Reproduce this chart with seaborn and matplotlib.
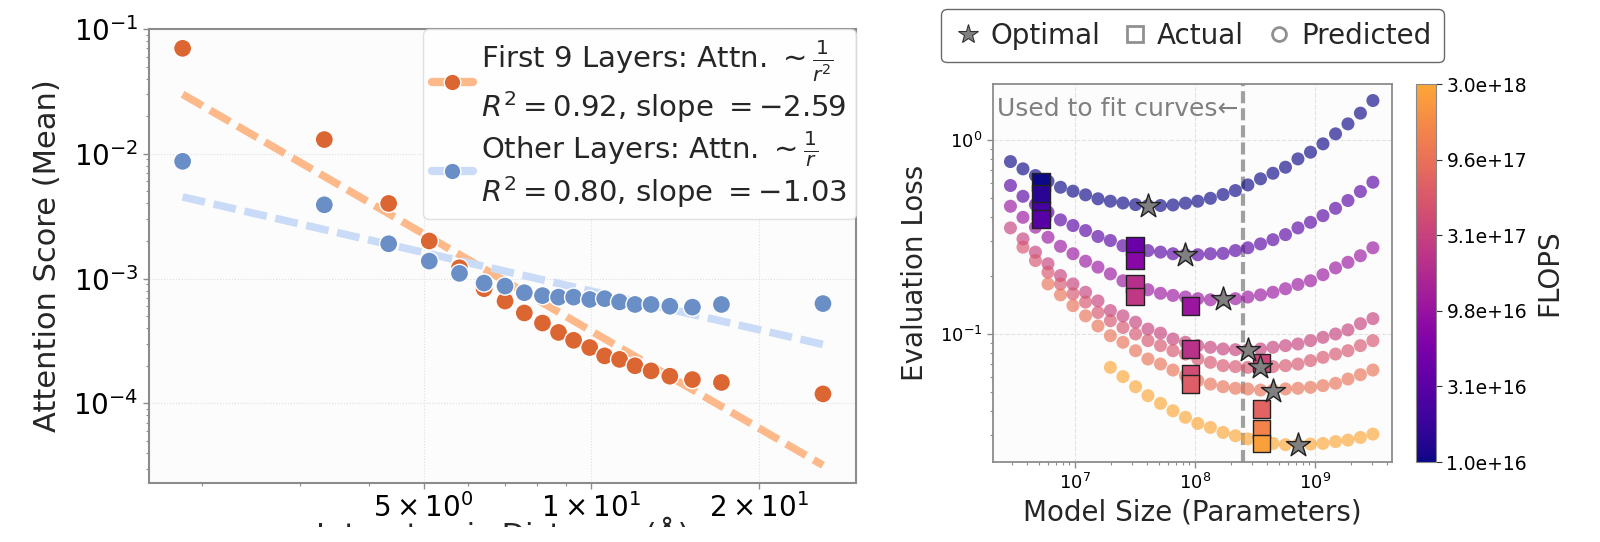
import numpy as np
import pandas as pd
import matplotlib
matplotlib.use("Agg")
import matplotlib.pyplot as plt
import seaborn as sns
from matplotlib.colors import LogNorm, ListedColormap
from matplotlib.lines import Line2D
from matplotlib.patches import Rectangle
from matplotlib.ticker import FixedLocator, NullFormatter

# ---------------- left panel data: attention score vs interatomic distance
distance = [1.85, 3.32, 4.33, 5.12, 5.80, 6.42, 7.00, 7.58, 8.17, 8.73,
            9.29, 9.93, 10.56, 11.23, 11.97, 12.79, 13.82, 15.17, 17.1, 26.0]
attn_first9 = [0.070, 0.0130, 0.0040, 0.0020, 0.00122, 0.00083, 0.00066, 0.00053,
               0.00044, 0.00037, 0.00032, 0.00028, 0.00024, 0.000225, 0.000200,
               0.000182, 0.000165, 0.000155, 0.000147, 0.000119]
attn_other = [0.0087, 0.0039, 0.0019, 0.00138, 0.00110, 0.00092, 0.00087, 0.00077,
              0.00073, 0.00071, 0.00071, 0.00068, 0.00069, 0.00065, 0.00062,
              0.00062, 0.00060, 0.00059, 0.00062, 0.00063]
first9_slope, first9_r2 = -2.59, 0.92
other_slope, other_r2 = -1.03, 0.80
dist_ticks = [5, 10, 20]
dist_tick_labels = [r"$5\times10^{0}$", r"$1\times10^{1}$", r"$2\times10^{1}$"]

# ---------------- right panel data: scaling curves
model_sizes = [2.91e6, 3.70e6, 4.70e6, 5.98e6, 7.60e6, 9.66e6, 1.23e7, 1.56e7, 1.98e7, 2.52e7,
               3.21e7, 4.07e7, 5.18e7, 6.58e7, 8.36e7, 1.06e8, 1.35e8, 1.72e8, 2.18e8, 2.77e8,
               3.53e8, 4.48e8, 5.70e8, 7.24e8, 9.21e8, 1.17e9, 1.49e9, 1.89e9, 2.40e9, 3.05e9]
curve_flops = [1e16, 3e16, 1e17, 3e17, 5e17, 1e18, 3e18]
loss_1e16 = [0.773, 0.709, 0.655, 0.612, 0.570, 0.544, 0.521, 0.497, 0.483, 0.473,
             0.464, 0.459, 0.459, 0.462, 0.472, 0.483, 0.500, 0.523, 0.548, 0.586,
             0.630, 0.673, 0.723, 0.798, 0.864, 0.954, 1.074, 1.209, 1.373, 1.595]
loss_3e16 = [0.582, 0.512, 0.464, 0.424, 0.387, 0.362, 0.341, 0.318, 0.303, 0.285,
             0.274, 0.269, 0.264, 0.259, 0.256, 0.256, 0.259, 0.260, 0.269, 0.278,
             0.291, 0.306, 0.325, 0.352, 0.376, 0.407, 0.444, 0.487, 0.542, 0.605]
loss_1e17 = [0.455, 0.399, 0.355, 0.315, 0.283, 0.259, 0.237, 0.221, 0.204, 0.188,
             0.177, 0.169, 0.162, 0.158, 0.155, 0.152, 0.150, 0.150, 0.152, 0.155,
             0.159, 0.164, 0.171, 0.180, 0.188, 0.202, 0.219, 0.234, 0.253, 0.278]
loss_3e17 = [0.352, 0.309, 0.264, 0.230, 0.200, 0.181, 0.164, 0.148, 0.132, 0.124,
             0.115, 0.106, 0.101, 0.0942, 0.0906, 0.0871, 0.0854, 0.0837, 0.0830, 0.0830,
             0.0837, 0.0854, 0.0871, 0.0888, 0.0924, 0.0961, 0.100, 0.105, 0.113, 0.120]
loss_5e17 = [0.280, 0.239, 0.208, 0.181, 0.161, 0.146, 0.129, 0.117, 0.108, 0.100,
             0.0924, 0.0871, 0.0820, 0.0788, 0.0743, 0.0714, 0.0687, 0.0679, 0.0673, 0.0673,
             0.0679, 0.0687, 0.0700, 0.0729, 0.0758, 0.0788, 0.0820, 0.0871, 0.0924]
loss_1e18 = [0.181, 0.159, 0.140, 0.124, 0.110, 0.0980, 0.0906, 0.0820, 0.0743, 0.0700,
             0.0652, 0.0610, 0.0575, 0.0552, 0.0535, 0.0525, 0.0521, 0.0514, 0.0514, 0.0521,
             0.0525, 0.0531, 0.0542, 0.0557, 0.0586, 0.0617, 0.0652]
loss_3e18 = [0.0673, 0.0603, 0.0535, 0.0481, 0.0439, 0.0402, 0.0372, 0.0346, 0.0330, 0.0311,
             0.0299, 0.0288, 0.0280, 0.0273, 0.0269, 0.0269, 0.0271, 0.0273, 0.0279, 0.0284,
             0.0293, 0.0305]

actual_sizes = [5.2e6, 5.2e6, 5.2e6, 5.2e6, 3.2e7, 3.2e7, 3.2e7, 3.2e7,
                9.2e7, 9.2e7, 9.2e7, 9.2e7, 3.6e8, 3.6e8, 3.6e8, 3.6e8]
actual_loss = [0.605, 0.527, 0.432, 0.390, 0.285, 0.239, 0.181, 0.156,
               0.139, 0.0834, 0.0622, 0.0552, 0.0706, 0.0409, 0.0324, 0.0273]
actual_flops = [1.0e16, 1.4e16, 2.2e16, 3.0e16, 4.1e16, 7.4e16, 2.0e17, 2.4e17,
                1.05e17, 2.1e17, 4.1e17, 6.3e17, 3.5e17, 7.2e17, 1.5e18, 2.6e18]

optimal_sizes = [4.08e7, 8.36e7, 1.72e8, 2.78e8, 3.52e8, 4.5e8, 7.26e8]
optimal_loss = [0.459, 0.256, 0.152, 0.083, 0.0673, 0.051, 0.0269]

fit_cutoff = 2.5e8
flops_min, flops_max = 1e16, 3e18
cbar_labels = ["1.0e+16", "3.1e+16", "9.8e+16", "3.1e+17", "9.6e+17", "3.0e+18"]

# ---------------- style
sns.set_style("ticks")
plt.rcParams["font.family"] = ["DejaVu Sans"]
plt.rcParams["axes.edgecolor"] = "#8c8c8c"
plt.rcParams["xtick.color"] = "#8c8c8c"
plt.rcParams["ytick.color"] = "#8c8c8c"
plt.rcParams["xtick.labelcolor"] = "black"
plt.rcParams["ytick.labelcolor"] = "black"

fig = plt.figure(figsize=(16, 5.42), dpi=100)
fig.patch.set_facecolor("white")

# ================= left panel
ax1 = fig.add_axes([0.0931, 0.1089, 0.4419, 0.8376])
ax1.set_facecolor("#fcfcfc")
ax1.set_xscale("log")
ax1.set_yscale("log")

orange_pt, orange_fit = "#dc6632", "#fdb98a"
blue_pt, blue_fit = "#6a8fc6", "#c9dbf7"

# power-law fit lines (slope from the legend, intercept from the points)
dist = np.array(distance)
for vals, slope, fitc in [(attn_first9, first9_slope, orange_fit),
                          (attn_other, other_slope, blue_fit)]:
    logx, logy = np.log10(dist), np.log10(vals)
    b = logy.mean() - slope * logx.mean()
    xs = np.array([dist.min(), dist.max()])
    ax1.plot(xs, 10 ** (b + slope * np.log10(xs)), color=fitc, lw=5.5,
             ls=(0, (3.0, 1.15)), zorder=1, solid_capstyle="butt")

df_attn = pd.DataFrame({
    "distance": distance * 2,
    "score": attn_first9 + attn_other,
    "group": ["first"] * len(distance) + ["other"] * len(distance),
})
sns.scatterplot(data=df_attn, x="distance", y="score", hue="group",
                palette={"first": orange_pt, "other": blue_pt},
                s=170, edgecolor="white", linewidth=1.0, legend=False,
                zorder=3, ax=ax1)

ax1.set_xlim(1.61, 29.8)
ax1.set_ylim(2.3e-5, 0.1)
ax1.xaxis.set_major_locator(FixedLocator(dist_ticks))
ax1.set_xticklabels(dist_tick_labels)
ax1.xaxis.set_minor_formatter(NullFormatter())
ax1.tick_params(axis="both", which="major", labelsize=20, length=4, width=1)
ax1.tick_params(axis="both", which="minor", length=2.5, width=0.8)
ax1.grid(True, which="major", ls=":", lw=0.8, color="#dedede")
for sp in ax1.spines.values():
    sp.set_linewidth(1.5)
    sp.set_visible(True)
ax1.set_xlabel("Interatomic Distance (Å)", fontsize=22, labelpad=-3.5)
ax1.set_ylabel("Attention Score (Mean)", fontsize=22, labelpad=8)

lab1 = ("First 9 Layers: Attn. $\\sim\\frac{1}{r^2}$\n"
        f"$R^2 = {first9_r2:.2f}$, slope $= {first9_slope:.2f}$")
lab2 = ("Other Layers: Attn. $\\sim\\frac{1}{r}$\n"
        f"$R^2 = {other_r2:.2f}$, slope $= {other_slope:.2f}$")
h1 = Line2D([0], [0], color=orange_fit, lw=6, marker="o", markersize=12,
            markerfacecolor=orange_pt, markeredgecolor="white")
h2 = Line2D([0], [0], color=blue_fit, lw=6, marker="o", markersize=12,
            markerfacecolor=blue_pt, markeredgecolor="white")
leg1 = ax1.legend([h1, h2], [lab1, lab2], loc="upper right", fontsize=21,
                  borderaxespad=0.0, handlelength=1.4, handletextpad=0.3,
                  labelspacing=0.15, borderpad=0.3, frameon=True, fancybox=True)
leg1.get_frame().set_edgecolor("#dddddd")
leg1.get_frame().set_alpha(0.9)

# ================= right panel
ax2 = fig.add_axes([0.6206, 0.1476, 0.2494, 0.6974])
ax2.set_facecolor("#fcfcfc")
ax2.set_xscale("log")
ax2.set_yscale("log")

cmap = ListedColormap(plt.cm.plasma(np.linspace(0, 0.8, 256)))
norm = LogNorm(vmin=flops_min, vmax=flops_max)

rows = []
for fl, losses in zip(curve_flops, [loss_1e16, loss_3e16, loss_1e17, loss_3e17,
                                    loss_5e17, loss_1e18, loss_3e18]):
    for sz, lo in zip(model_sizes[-len(losses):], losses):
        rows.append((sz, lo, fl))
df_pred = pd.DataFrame(rows, columns=["size", "loss", "flops"])
sns.scatterplot(data=df_pred, x="size", y="loss", hue="flops", hue_norm=norm,
                palette=cmap, s=88, alpha=0.65, linewidth=0, legend=False,
                zorder=2, ax=ax2)

df_act = pd.DataFrame({"size": actual_sizes, "loss": actual_loss, "flops": actual_flops})
sns.scatterplot(data=df_act, x="size", y="loss", hue="flops", hue_norm=norm,
                palette=cmap, marker="s", s=165, edgecolor="#222222", linewidth=1.0,
                legend=False, zorder=3, ax=ax2)

sns.scatterplot(x=optimal_sizes, y=optimal_loss, marker="*", s=330, color="#808080",
                edgecolor="#222222", linewidth=1.0, legend=False, zorder=4, ax=ax2)

ax2.axvline(fit_cutoff, color="#a0a0a0", lw=3, ls=(0, (2.9, 1.2)), zorder=1.5)
ax2.annotate("Used to fit curves\u2190", xy=(fit_cutoff, 0.935),
             xycoords=("data", "axes fraction"), xytext=(-3, 0),
             textcoords="offset points", ha="right", va="center",
             fontsize=18, color="#808080")

ax2.set_xlim(2.08e6, 4.4e9)
ax2.set_ylim(0.0219, 1.94)
ax2.tick_params(axis="both", which="major", labelsize=13, length=4, width=1)
ax2.tick_params(axis="both", which="minor", length=2.5, width=0.8)
ax2.grid(True, which="major", ls="--", lw=0.8, color="#e2e2e2")
for sp in ax2.spines.values():
    sp.set_linewidth(1.3)
    sp.set_visible(True)
ax2.set_xlabel("Model Size (Parameters)", fontsize=20, labelpad=4)
ax2.set_ylabel("Evaluation Loss", fontsize=20, labelpad=8)

hs = [Line2D([0], [0], ls="none", marker="*", markersize=15, markerfacecolor="#808080",
             markeredgecolor="#333333", markeredgewidth=0.8),
      Line2D([0], [0], ls="none", marker="s", markersize=12, markerfacecolor="none",
             markeredgecolor="#909090", markeredgewidth=2),
      Line2D([0], [0], ls="none", marker="o", markersize=10, markerfacecolor="none",
             markeredgecolor="#909090", markeredgewidth=2)]
leg2 = ax2.legend(hs, ["Optimal", "Actual", "Predicted"], loc="lower center",
                  bbox_to_anchor=(0.5, 1.021), ncol=3, fontsize=20, frameon=True,
                  fancybox=True, handlelength=1.0, handletextpad=0.3,
                  columnspacing=0.75, borderpad=0.45)
leg2.get_frame().set_edgecolor("#444444")
leg2.get_frame().set_linewidth(1.0)

cax = fig.add_axes([0.885, 0.1476, 0.0125, 0.6974])
sm = plt.cm.ScalarMappable(norm=norm, cmap=cmap)
cbar = fig.colorbar(sm, cax=cax)
cbar.minorticks_off()
cbar.set_ticks(np.geomspace(flops_min, flops_max, len(cbar_labels)))
cbar.set_ticklabels(cbar_labels)
cbar.ax.tick_params(labelsize=13.5, length=4, color="#333333")
cbar.outline.set_edgecolor("#888888")
cbar.set_label("FLOPS", fontsize=20, labelpad=6)

# the reference image is cropped just below the left x-label: white strip at the bottom
fig.add_artist(Rectangle((0, 0), 1, 15 / 542, transform=fig.transFigure,
                         facecolor="white", edgecolor="none", zorder=10))

fig.savefig("out.png", dpi=100)
